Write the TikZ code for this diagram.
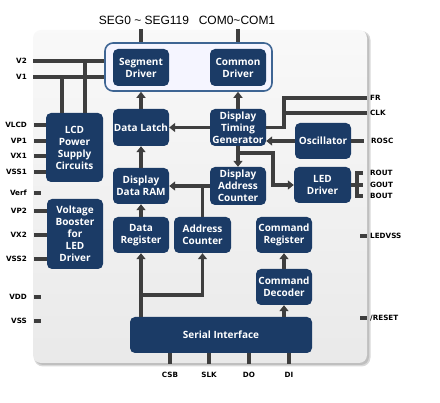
\documentclass[tikz,border=0pt]{standalone}
\usepackage{fontspec}
\setmainfont{Open Sans}
\newfontfamily\pinf{DejaVu Sans}
\newfontfamily\topf{Liberation Sans}
\usetikzlibrary{arrows.meta}
\definecolor{navy}{HTML}{1B3B66}
\definecolor{linec}{HTML}{3E3E3E}
\definecolor{framec}{HTML}{3E6593}
\begin{document}
\begin{tikzpicture}[x=1pt,y=-1pt,
  blk/.style={fill=navy, rounded corners=5pt, text=white, align=center, inner sep=0pt,
    font=\bfseries\fontsize{10}{12}\selectfont},
  conn/.style={draw=linec, line width=3.3pt},
  arr/.style={conn, -{Triangle[length=6pt,width=9pt]}},
  pinl/.style={anchor=east, inner sep=0pt, font=\pinf\bfseries\fontsize{7.2}{8}\selectfont},
  pinr/.style={anchor=west, inner sep=0pt, font=\pinf\bfseries\fontsize{7.2}{8}\selectfont},
  pinb/.style={anchor=center, inner sep=0pt, font=\pinf\bfseries\fontsize{7.2}{8}\selectfont},
  toplbl/.style={inner sep=0pt, font=\topf\fontsize{12}{14}\selectfont}]
\useasboundingbox (0,0) rectangle (440,403);
% panel
\fill[gray!30, rounded corners=9pt] (34,31) rectangle (370.5,366.5);
\fill[gray!50, rounded corners=8pt] (35,32) rectangle (369,365);
\shade[top color=gray!5, bottom color=gray!17, rounded corners=8pt] (33,30) rectangle (367,363);
% driver outline
\node[draw=framec, line width=1.6pt, fill=white!96!blue, rounded corners=8pt, minimum width=167pt, minimum height=48pt, inner sep=0pt] (outl) at (188.5,67) {};
% blocks
\node[blk, minimum width=56pt, minimum height=37pt] (seg) at (141,67.5) {Segment\\Driver};
\node[blk, minimum width=56pt, minimum height=37pt] (com) at (238,67.5) {Common\\Driver};
\node[blk, minimum width=56pt, minimum height=37pt] (latch) at (141,127.5) {Data Latch};
\node[blk, minimum width=56pt, minimum height=37pt] (dtg) at (238,127.5) {Display\\Timing\\Generator};
\node[blk, minimum width=56pt, minimum height=36pt] (osc) at (323,141) {Oscillator};
\node[blk, minimum width=56pt, minimum height=36pt] (ram) at (141,186) {Display\\Data RAM};
\node[blk, minimum width=56pt, minimum height=38pt] (dac) at (238,186) {Display\\Address\\Counter};
\node[blk, minimum width=57pt, minimum height=36pt] (led) at (322.5,185) {LED\\Driver};
\node[blk, minimum width=56pt, minimum height=36pt] (dreg) at (141,235) {Data\\Register};
\node[blk, minimum width=57pt, minimum height=36pt] (areg) at (202.5,235) {Address\\Counter};
\node[blk, minimum width=56pt, minimum height=36pt] (creg) at (284,235) {Command\\Register};
\node[blk, minimum width=56pt, minimum height=36pt] (cdec) at (284,287) {Command\\Decoder};
\node[blk, minimum width=182pt, minimum height=36pt] (ser) at (221,335) {Serial Interface};
\node[blk, minimum width=57pt, minimum height=69pt] (lcd) at (74.5,147.5) {LCD\\Power\\Supply\\Circuits};
\node[blk, minimum width=56pt, minimum height=70pt] (vbst) at (75,234) {Voltage\\Booster\\for\\LED\\Driver};
% top outputs
\node[toplbl] (segl) at (144,20.5) {SEG0 \textasciitilde\ SEG119};
\node[toplbl] (coml) at (237,20.5) {COM0\textasciitilde COM1};
\coordinate (segp) at (141,29);
\coordinate (comp) at (238,29);
\draw[conn] (segp) -- (segp |- outl.north);
\draw[conn] (comp) -- (comp |- outl.north);
% internal connections
\draw[arr] (latch.north) -- (latch.north |- outl.south);
\draw[arr] (dtg.north) -- (dtg.north |- outl.south);
\draw[arr] (dtg.west) -- (latch.east);
\draw[arr] (ram.north) -- (latch.south);
\draw[arr] (osc.west) -- (osc.west -| dtg.east);
\draw[arr] (dtg.south) -- (dac.north);
\coordinate (j1) at (238,153);
\coordinate (j2) at (273,185);
\draw[arr] (j1) -| (j2) -- (led.west);
\draw[arr] (dac.west) -- (ram.east);
\draw[conn] (areg.north) -- (areg.north |- ram.east);
\draw[arr] (dreg.north) -- (ram.south);
\draw[arr] (ser.north -| dreg.south) -- (dreg.south);
\coordinate (j3) at (141,295);
\draw[arr] (j3) -| (areg.south);
\draw[arr] (ser.north -| cdec.south) -- (cdec.south);
\draw[arr] (cdec.north) -- (creg.south);
% FR / CLK
\coordinate (frp) at (367,98);
\coordinate (clkp) at (367,113);
\coordinate (fb) at (284,127.5);
\draw[conn] (frp) -| (fb) -- (fb -| dtg.east);
\draw[conn] (clkp) -- (clkp -| fb);
\node[pinr] (frl) at (370,98) {FR};
\node[pinr] (clkl) at (370,113) {CLK};
% ROSC
\coordinate (roscp) at (364,141);
\draw[conn] (osc.east) -- (roscp);
\node[pinr] (roscl) at (371,141) {ROSC};
% LED outputs
\coordinate (br1) at (357,173);
\coordinate (br3) at (357,196);
\coordinate (ro) at (363,173);
\coordinate (go) at (363,185);
\coordinate (bo) at (363,196);
\draw[conn] (led.east) -- (go);
\draw[conn] (ro) -- (br1) -- (br3) -- (bo);
\node[pinr] (rol) at (370,173) {ROUT};
\node[pinr] (gol) at (370,185) {GOUT};
\node[pinr] (bol) at (370,196) {BOUT};
% LEDVSS, RESET
\coordinate (lva) at (360,236);
\coordinate (lvb) at (367,236);
\draw[conn] (lva) -- (lvb);
\node[pinr] (lvl) at (370,236) {LEDVSS};
\coordinate (rsa) at (360,318);
\coordinate (rsb) at (367,318);
\draw[conn] (rsa) -- (rsb);
\node[pinr] (rsl) at (370,318) {/RESET};
% left pins
\coordinate (v2p) at (33,61);
\coordinate (v1p) at (33,77);
\draw[conn] (v2p) -- (v2p -| outl.west);
\draw[conn] (v1p) -- (v1p -| outl.west);
\coordinate (v1j) at (62,77);
\coordinate (v2j) at (85,61);
\draw[conn] (v1j) -- (v1j |- lcd.north);
\draw[conn] (v2j) -- (v2j |- lcd.north);
\node[pinl] (v2l) at (27,61) {V2};
\node[pinl] (v1l) at (27,77) {V1};
\foreach \n/\y in {VLCD/125,VP1/141,VX1/156,VSS1/172}{
  \coordinate (p\n) at (34,\y);
  \draw[conn] (p\n) -- (p\n -| lcd.west);
  \node[pinl] (l\n) at (27,\y) {\n};
}
\foreach \n/\y in {VP2/211,VX2/235,VSS2/259}{
  \coordinate (p\n) at (34,\y);
  \draw[conn] (p\n) -- (p\n -| vbst.west);
  \node[pinl] (l\n) at (27,\y) {\n};
}
\foreach \n/\y in {Verf/193,VDD/297,VSS/321}{
  \coordinate (p\n) at (34,\y);
  \coordinate (e\n) at (41,\y);
  \draw[conn] (p\n) -- (e\n);
  \node[pinl] (l\n) at (27,\y) {\n};
}
% bottom pins
\foreach \n/\x in {CSB/170,SLK/209,DO/249,DI/289}{
  \coordinate (b\n) at (\x,364);
  \draw[conn] (b\n |- ser.south) -- (b\n);
  \node[pinb] (bl\n) at (\x,375) {\n};
}
\end{tikzpicture}
\end{document}
